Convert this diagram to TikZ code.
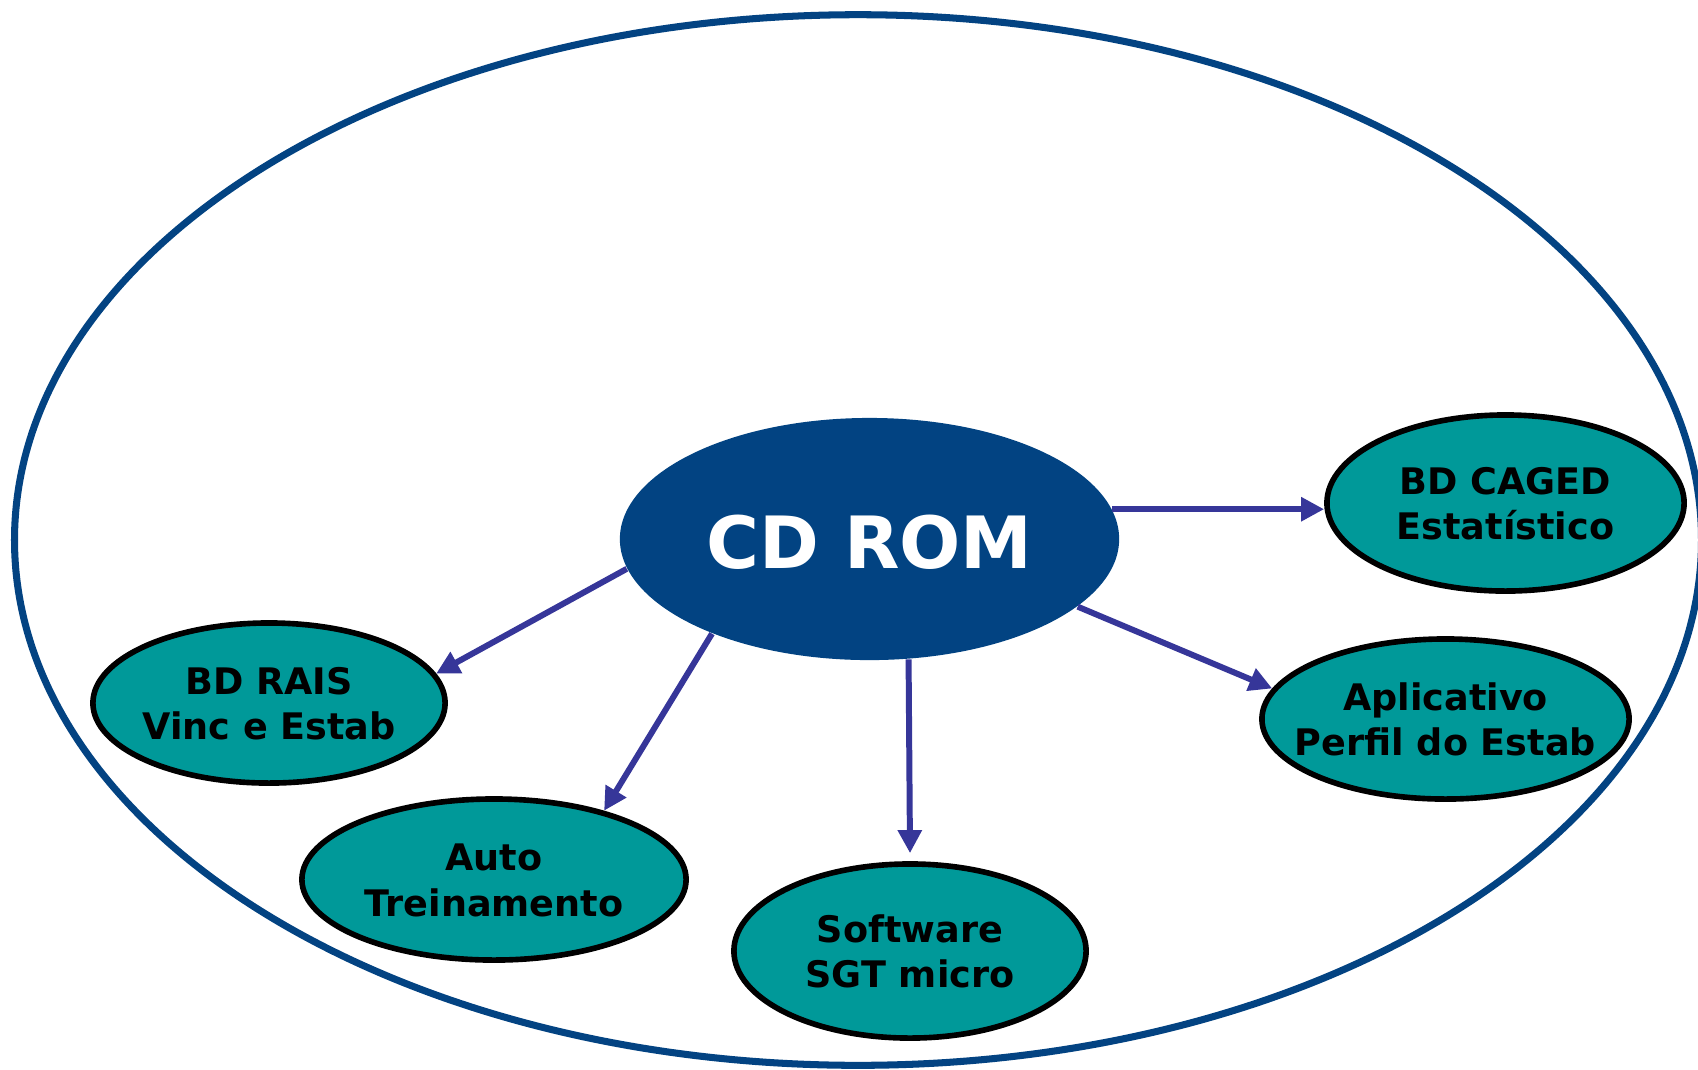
\documentclass[tikz,border=0pt]{standalone}
\usepackage{fontspec}
\setmainfont{DejaVu Sans}
\usetikzlibrary{shapes.geometric,arrows.meta}
\definecolor{outerblue}{HTML}{034382}
\definecolor{cdblue}{HTML}{024382}
\definecolor{leafteal}{HTML}{009999}
\definecolor{arrowblue}{HTML}{363699}
\newcommand{\twolines}[2]{\makebox[0pt]{\raisebox{-1.4pt}[\height][\depth]{\begin{tabular}{@{}c@{}}#1\\#2\end{tabular}}}}
\tikzset{
  leaf/.style={ellipse, draw=black, line width=1.6pt, fill=leafteal, inner sep=0pt,
    font=\fontsize{10.4}{13}\selectfont\bfseries, text=black},
  hub/.style={ellipse, fill=cdblue, inner sep=0pt, minimum width=4.99cm, minimum height=2.42cm,
    font=\fontsize{20.5}{24}\selectfont\bfseries, text=white},
  link/.style={draw=arrowblue, line width=1.7pt, -{Triangle[length=0.23cm,width=0.23cm]}},
  frame/.style={draw=outerblue, line width=2pt}
}
\begin{document}
\begin{tikzpicture}[x=0.01cm, y=-0.01cm]
\useasboundingbox (0,0) rectangle (1698,1069);
\clip (0,0) rectangle (1698,1069);
\draw[frame] (858,540) ellipse [x radius=8.43cm, y radius=5.25cm];

\node[hub] (cd) at (869.5,539) {\makebox[0pt]{\raisebox{-1pt}[\height][\depth]{CD ROM}}};

\node[leaf, minimum width=3.57cm, minimum height=1.76cm] (caged) at (1505.5,503) {\twolines{BD CAGED}{Estatístico}};
\node[leaf, minimum width=3.67cm, minimum height=1.60cm] (apl) at (1445.5,719) {\twolines{Aplicativo}{Perfil do Estab}};
\node[leaf, minimum width=3.52cm, minimum height=1.60cm] (rais) at (269,703) {\twolines{BD RAIS}{Vinc e Estab}};
\node[leaf, minimum width=3.84cm, minimum height=1.61cm] (auto) at (494,879.5) {\twolines{Auto}{Treinamento}};
\node[leaf, minimum width=3.52cm, minimum height=1.74cm] (sgt) at (910,951) {\twolines{Software}{SGT micro}};

\draw[link] (cd.7.1) -- (cd.7.1 -| caged.west);
\draw[link] (cd.-18.3) -- (apl.170.9);
\draw[link] (cd.-72.1) -- ([yshift=0.08cm]sgt.north);
\draw[link] (cd.211.6) -- (auto.32);
\draw[link] (cd.187.6) -- (rais.10.7);
\end{tikzpicture}
\end{document}
